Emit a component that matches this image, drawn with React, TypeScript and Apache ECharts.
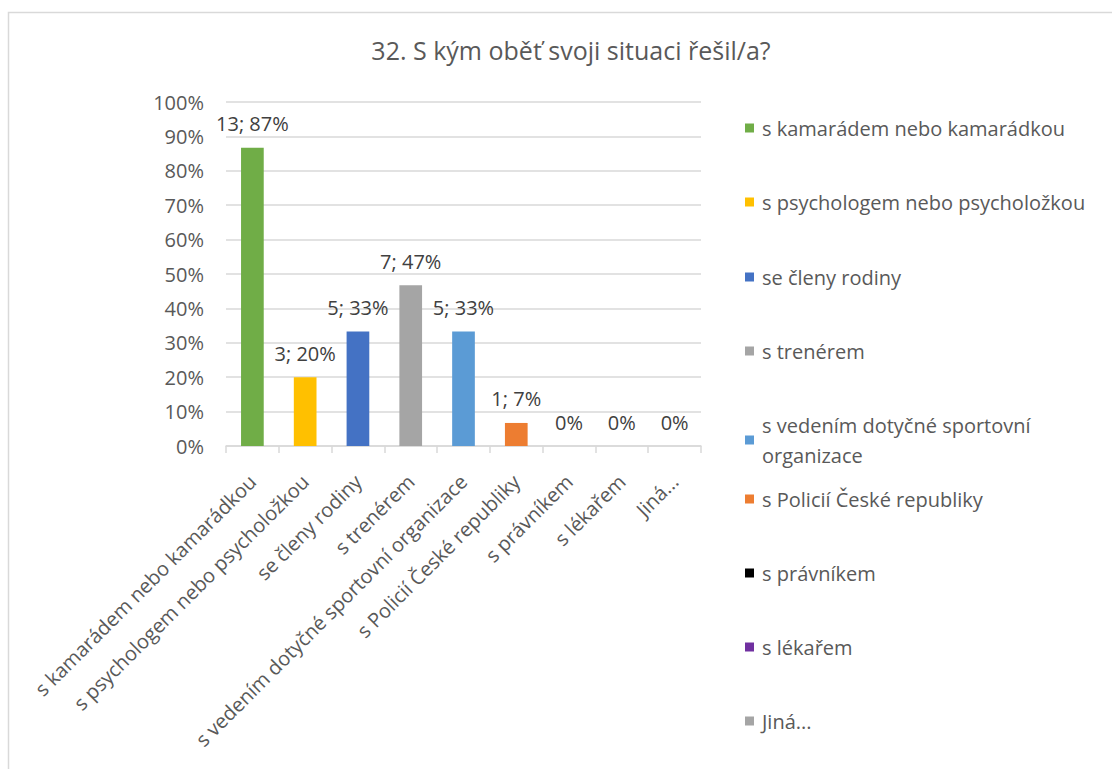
import React, { useEffect, useRef } from "react";
import * as echarts from "echarts";

const categories = [
  "s kamarádem nebo kamarádkou",
  "s psychologem nebo psycholožkou",
  "se členy rodiny",
  "s trenérem",
  "s vedením dotyčné sportovní organizace",
  "s Policií České republiky",
  "s právníkem",
  "s lékařem",
  "Jiná...",
];
const counts = [13, 3, 5, 7, 5, 1, 0, 0, 0];
const shares = [0.867, 0.2, 0.333, 0.467, 0.333, 0.067, 0, 0, 0];
const colors = ["#70ad47", "#ffc000", "#4472c4", "#a5a5a5", "#5b9bd5", "#ed7d31", "#000000", "#7030a0", "#a5a5a5"];
const yTicks = [0, 0.1, 0.2, 0.3, 0.4, 0.5, 0.6, 0.7, 0.8, 0.9, 1];
const title = "32. S kým oběť svoji situaci řešil/a?";

const FONT = "'Open Sans', sans-serif";
const legendCenters = [128, 202, 277, 351, 425, 499, 573, 647, 721];

export default function App() {
  const ref = useRef<HTMLDivElement>(null);
  useEffect(() => {
    if (!ref.current) return;
    const chart = echarts.init(ref.current, undefined, { renderer: "svg" });

    const series = categories.map((name, i) => ({
      name,
      type: "bar",
      stack: "all",
      barWidth: "43%",
      itemStyle: { color: colors[i] },
      data: categories.map((_, j) => (j === i ? shares[i] : "-")),
      label: {
        show: true,
        position: "top",
        distance: 14,
        color: "#404040",
        fontSize: 20,
        fontFamily: FONT,
        formatter: (p: any) => {
          const pct = Math.round(shares[p.dataIndex] * 100) + "%";
          return counts[p.dataIndex] > 0 ? `${counts[p.dataIndex]}; ${pct}` : pct;
        },
      },
    }));

    const legends = categories.map((name, i) => {
      const wrapped = i === 4;
      return {
        orient: "vertical",
        left: 745,
        top: wrapped ? legendCenters[i] - 30 : legendCenters[i] - 12,
        padding: 0,
        itemWidth: 9,
        itemHeight: 9,
        icon: "rect",
        selectedMode: false,
        data: [name],
        formatter: wrapped ? () => "s vedením dotyčné sportovní\norganizace" : undefined,
        textStyle: {
          color: "#595959",
          fontSize: 20,
          fontFamily: FONT,
          lineHeight: wrapped ? 30 : 24,
          padding: wrapped ? [30, 0, 0, 3] : [0, 0, 0, 3],
        },
      };
    });

    chart.setOption({
      animation: false,
      backgroundColor: "#ffffff",
      title: {
        text: title,
        left: 566,
        top: 32,
        textAlign: "center",
        textStyle: { color: "#595959", fontSize: 25, fontWeight: "normal", fontFamily: FONT },
      },
      graphic: [
        {
          type: "rect",
          shape: { x: 8.5, y: 12.5, width: 1300, height: 1000 },
          style: { fill: "none", stroke: "#d9d9d9", lineWidth: 1.5 },
          silent: true,
        },
      ],
      legend: legends,
      grid: { left: 226, right: 1112 - 701, top: 102, bottom: 769 - 446, outerBoundsMode: "none" },
      xAxis: {
        type: "category",
        data: categories,
        axisLine: { lineStyle: { color: "#d9d9d9", width: 1.5 } },
        axisTick: { show: true, length: 7, lineStyle: { color: "#d9d9d9", width: 1.5 } },
        axisLabel: {
          interval: 0,
          rotate: 45,
          margin: 32,
          color: "#595959",
          fontSize: 20,
          fontFamily: FONT,
        },
      },
      yAxis: {
        type: "value",
        min: yTicks[0],
        max: yTicks[yTicks.length - 1],
        interval: 0.1,
        axisLine: { show: false },
        axisTick: { show: false },
        splitLine: { lineStyle: { color: "#d9d9d9", width: 1.5 } },
        axisLabel: {
          margin: 22,
          color: "#595959",
          fontSize: 20,
          fontFamily: FONT,
          formatter: (v: number) => Math.round(v * 100) + "%",
        },
      },
      series,
    });

    return () => chart.dispose();
  }, []);

  return (
    <div
      ref={ref}
      style={{ position: "absolute", left: 0, top: 0, width: 1112, height: 769 }}
    />
  );
}
